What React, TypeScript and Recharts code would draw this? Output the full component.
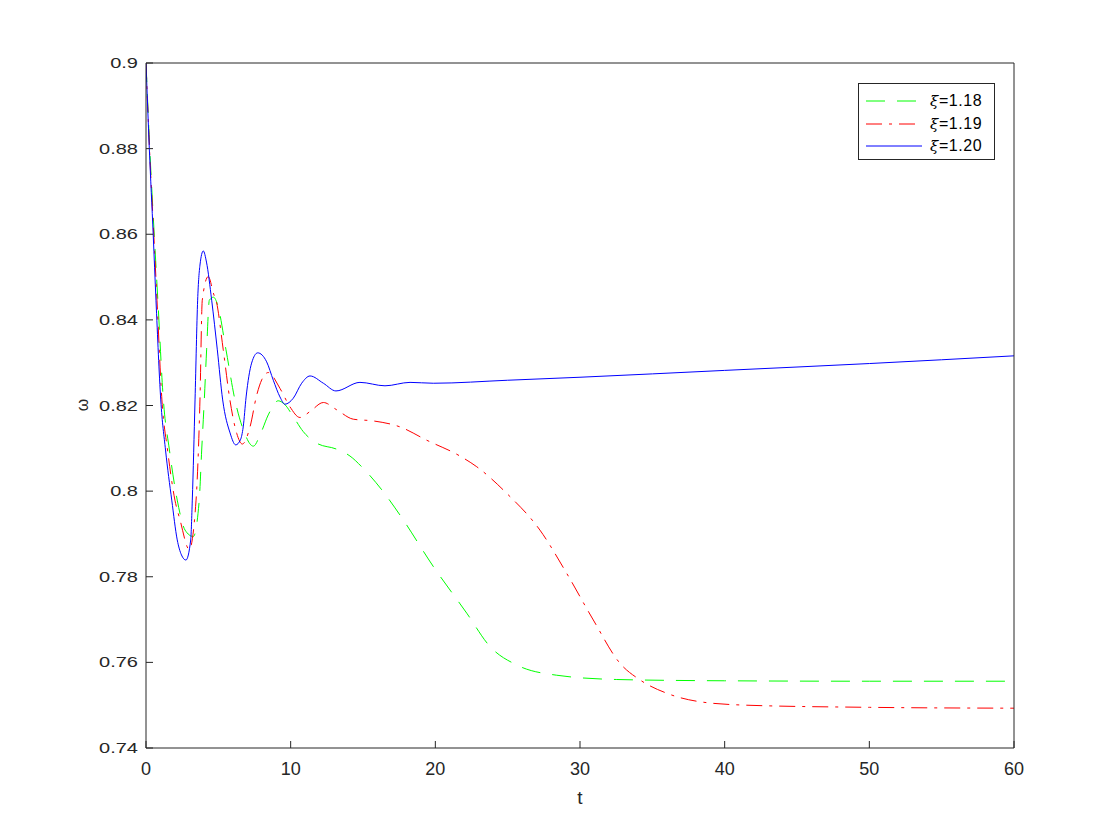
import React from 'react';
import { LineChart, Line, XAxis, YAxis } from 'recharts';

// xi = 1.18 (green, dashed)
const tGreen = [0, 0.26, 0.57, 0.82, 1.2, 1.62, 2.16, 2.7, 3.27, 3.68, 3.85, 4.03, 4.19, 4.38, 4.67, 4.95, 5.53, 6.15, 6.73, 7.42, 7.93, 8.45, 9.14, 9.6, 10.18, 10.87, 11.8, 13.18, 14.1, 15.02, 16.3, 17.56, 19.86, 22.17, 23.78, 25.62, 28.39, 32.54, 40, 50, 60];
const wGreen = [0.9, 0.88, 0.8598, 0.8446, 0.8213, 0.8096, 0.7979, 0.7909, 0.7894, 0.7979, 0.8096, 0.8213, 0.833, 0.8446, 0.8453, 0.8435, 0.833, 0.8213, 0.8143, 0.8105, 0.8135, 0.8178, 0.8211, 0.8202, 0.8174, 0.8139, 0.8112, 0.8098, 0.8082, 0.8053, 0.8003, 0.7944, 0.7824, 0.7715, 0.7637, 0.7594, 0.757, 0.756, 0.7557, 0.7556, 0.7556];

// xi = 1.19 (red, dash-dot)
const tRed = [0, 0.24, 0.54, 0.76, 1.1, 1.49, 2.0, 2.35, 2.99, 3.46, 3.73, 3.89, 4.3, 4.7, 4.84, 5.34, 5.8, 6.27, 6.66, 7.19, 7.65, 8.0, 8.45, 9.26, 9.95, 10.64, 11.34, 12.26, 13.18, 14.33, 15.71, 17.56, 19.4, 21.7, 22.86, 24.93, 27.23, 29.08, 30.92, 32.76, 34.15, 35.99, 38.3, 41.5, 50, 60];
const wRed = [0.9, 0.88, 0.8598, 0.8446, 0.8213, 0.8096, 0.7979, 0.7933, 0.7864, 0.7979, 0.8213, 0.8446, 0.8501, 0.8458, 0.8446, 0.833, 0.8213, 0.8135, 0.811, 0.815, 0.8224, 0.826, 0.8277, 0.824, 0.8197, 0.8172, 0.8186, 0.8207, 0.819, 0.8168, 0.8164, 0.815, 0.8119, 0.8082, 0.8057, 0.7995, 0.7909, 0.7808, 0.7699, 0.7598, 0.7559, 0.7528, 0.7508, 0.75, 0.7495, 0.7493];

// xi = 1.20 (blue, solid)
const tBlue = [0, 0.23, 0.5, 0.69, 1.02, 1.35, 1.78, 2.16, 2.45, 2.76, 3.09, 3.2, 3.39, 3.57, 3.73, 3.96, 4.18, 4.54, 4.93, 5.3, 5.81, 6.2, 6.53, 6.72, 6.92, 7.3, 7.72, 8.34, 8.8, 9.26, 9.6, 10.18, 10.76, 11.34, 12.26, 13.13, 14.79, 16.52, 18.25, 19.86, 25, 30, 40, 50, 60];
const wBlue = [0.9, 0.88, 0.8598, 0.8446, 0.8213, 0.8096, 0.7979, 0.7886, 0.7851, 0.7839, 0.7886, 0.7979, 0.8213, 0.8446, 0.8528, 0.8561, 0.8535, 0.8446, 0.833, 0.8213, 0.8136, 0.8108, 0.812, 0.815, 0.822, 0.8299, 0.8323, 0.8302, 0.8259, 0.822, 0.8203, 0.8217, 0.8252, 0.8269, 0.8252, 0.8234, 0.8254, 0.8246, 0.8254, 0.8252, 0.8259, 0.8266, 0.8282, 0.8298, 0.8316];

const xTicks = [0, 10, 20, 30, 40, 50, 60];
const yTicks = [0.74, 0.76, 0.78, 0.8, 0.82, 0.84, 0.86, 0.88, 0.9];
const seriesNames = ['1.18', '1.19', '1.20'];

const toRows = (ts: number[], ws: number[]) => ts.map((t, i) => ({ t, w: ws[i] }));

const series = [
  { name: seriesNames[0], data: toRows(tGreen, wGreen), color: '#00ff00', dash: '19 12' },
  { name: seriesNames[1], data: toRows(tRed, wRed), color: '#ff0000', dash: '16 7 3 7' },
  { name: seriesNames[2], data: toRows(tBlue, wBlue), color: '#0000ff', dash: undefined },
];

const axisColor = '#262626';
const font = '"Liberation Sans", Arial, Helvetica, sans-serif';

const fmtY = (v: number) => String(Number(v.toFixed(2)));

// y tick labels look wide in the original, so stretch them a bit
const YTick = (props: any) => {
  const { x, y, payload } = props;
  const label = fmtY(payload.value);
  let em = 0;
  for (const ch of label) em += ch === '.' ? 0.278 : 0.556;
  return (
    <text
      x={x}
      y={y}
      dy={5}
      textAnchor="end"
      fill={axisColor}
      fontSize={15}
      fontFamily={font}
      textLength={em * 20}
      lengthAdjust="spacingAndGlyphs"
    >
      {label}
    </text>
  );
};

const OmegaLabel = () => (
  <text x={88} y={405} transform="rotate(-90 88 405)" textAnchor="middle" fill={axisColor} fontSize={16} fontFamily={font}>
    ω
  </text>
);

const TLabel = () => (
  <text x={580} y={804} textAnchor="middle" fill={axisColor} fontSize={19} fontFamily={font}>
    t
  </text>
);

const LegendBox = () => (
  <div
    style={{
      position: 'absolute',
      left: 858,
      top: 83,
      border: `1px solid ${axisColor}`,
      background: '#fff',
      width: 137,
      height: 77,
      boxSizing: 'border-box',
      padding: '6px 0 0 7px',
      fontFamily: font,
      fontSize: 16,
      color: '#000',
    }}
  >
    {series.map((s) => (
      <div key={s.name} style={{ display: 'flex', alignItems: 'center', height: 22.5 }}>
        <svg width={58} height={10} style={{ marginRight: 6 }}>
          <line x1={0} y1={5} x2={56} y2={5} stroke={s.color} strokeWidth={1} strokeDasharray={s.dash} />
        </svg>
        <span style={{ letterSpacing: 0.6 }}>
          <i style={{ fontFamily: '"DejaVu Serif", serif', fontSize: 15 }}>ξ</i>=
          {s.name}
        </span>
      </div>
    ))}
  </div>
);

export default function App() {
  return (
    <div style={{ position: 'absolute', left: 0, top: 0, width: 1120, height: 840, background: '#fff' }}>
      <LineChart width={1120} height={840} margin={{ top: 62, right: 105, bottom: 52, left: 86 }}>
        <XAxis
          dataKey="t"
          type="number"
          domain={[0, 60]}
          ticks={xTicks}
          allowDataOverflow
          height={40}
          stroke={axisColor}
          tickSize={-7}
          tickMargin={21}
          tick={{ fill: axisColor, fontSize: 18, fontFamily: font }}
          label={<TLabel />}
        />
        <XAxis
          xAxisId="top"
          orientation="top"
          dataKey="t"
          type="number"
          domain={[0, 60]}
          ticks={xTicks}
          height={1}
          stroke={axisColor}
          tickSize={-7}
          tickFormatter={() => ''}
        />
        <YAxis
          type="number"
          domain={[0.74, 0.9]}
          ticks={yTicks}
          allowDataOverflow
          width={60}
          stroke={axisColor}
          tickSize={-7}
          tickMargin={15}
          tick={<YTick />}
          label={<OmegaLabel />}
        />
        <YAxis
          yAxisId="right"
          orientation="right"
          type="number"
          domain={[0.74, 0.9]}
          ticks={yTicks}
          width={1}
          stroke={axisColor}
          tickSize={-7}
          tickFormatter={() => ''}
        />
        {series.map((s) => (
          <Line
            key={s.name}
            data={s.data}
            dataKey="w"
            name={s.name}
            type="monotone"
            stroke={s.color}
            strokeWidth={1}
            strokeDasharray={s.dash}
            dot={false}
            activeDot={false}
            isAnimationActive={false}
          />
        ))}
      </LineChart>
      <LegendBox />
    </div>
  );
}
